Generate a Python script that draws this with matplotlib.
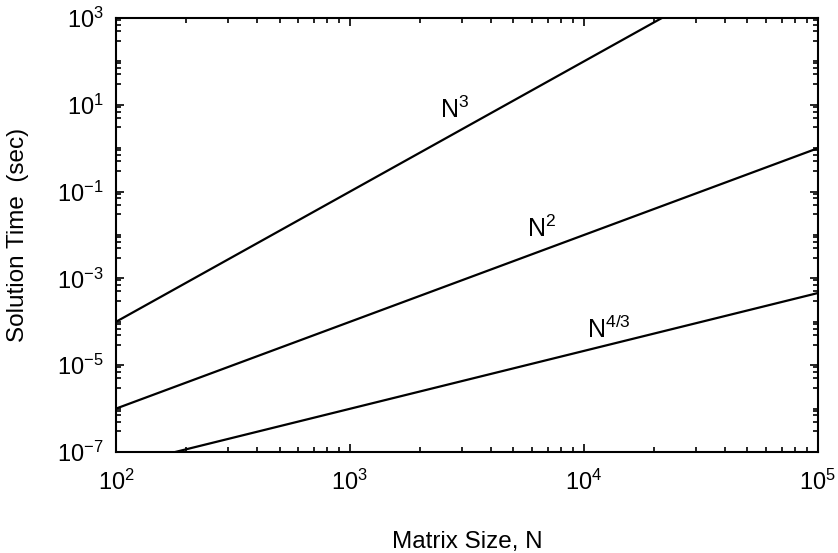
import matplotlib
matplotlib.use("Agg")
import matplotlib.pyplot as plt
from matplotlib.ticker import FixedLocator, LogFormatterSciNotation, NullFormatter

plt.rcParams['font.family'] = ['Liberation Sans', 'DejaVu Sans']
plt.rcParams['mathtext.default'] = 'regular'
plt.rcParams['axes.unicode_minus'] = False

# values (end points of each straight log-log line)
matrix_size = [1e2, 1e5]
time_n3 = [1e-4, 1e5]
time_n2 = [1e-6, 1e0]
time_n43 = [4.6e-8, 4.6e-4]

labels = [r'$N^3$', r'$N^2$', r'$N^{4/3}$']
label_x = [2425, 5706, 10300]
label_y = [4.97, 9.0e-3, 4.24e-5]

fig = plt.figure(figsize=(8.38, 5.53), dpi=100)
ax = fig.add_axes([0.1384, 0.1826, 0.8376, 0.7849])

for t in (time_n3, time_n2, time_n43):
    ax.plot(matrix_size, t, color='black', linewidth=1.6)

for txt, x, y in zip(labels, label_x, label_y):
    ax.text(x, y, txt, fontsize=18, ha='left', va='baseline')

ax.set_xscale('log')
ax.set_yscale('log')
ax.set_xlim(1e2, 1e5)
ax.set_ylim(1e-7, 1e3)

# x: majors every decade, minors 2..9
ax.xaxis.set_major_locator(FixedLocator([1e2, 1e3, 1e4, 1e5]))
ax.xaxis.set_minor_locator(FixedLocator([s * 10.0**k for k in range(2, 5) for s in range(2, 10)]))
# y: labelled majors every second decade, minors at 1,3,5,7,9
ymajor = [10.0**k for k in range(-7, 4, 2)]
ax.yaxis.set_major_locator(FixedLocator(ymajor))
yminor = [s * 10.0**k for k in range(-7, 3) for s in (1, 3, 5, 7, 9)]
ax.yaxis.set_minor_locator(FixedLocator([v for v in yminor if v not in ymajor]))
ax.xaxis.set_major_formatter(LogFormatterSciNotation())
ax.yaxis.set_major_formatter(LogFormatterSciNotation())
ax.xaxis.set_minor_formatter(NullFormatter())
ax.yaxis.set_minor_formatter(NullFormatter())

ax.tick_params(which='both', direction='in', top=True, right=True, width=1.2, colors='black')
ax.tick_params(which='major', length=6, labelsize=17)
ax.tick_params(which='minor', length=3.6)
ax.tick_params(axis='x', which='major', pad=13)
ax.tick_params(axis='y', which='major', pad=9)

for sp in ax.spines.values():
    sp.set_linewidth(1.5)

ax.set_xlabel('Matrix Size, N', fontsize=17.5, labelpad=26)
ax.set_ylabel('Solution Time  (sec)', fontsize=17.5, labelpad=20)

fig.savefig('out.png', dpi=100)
